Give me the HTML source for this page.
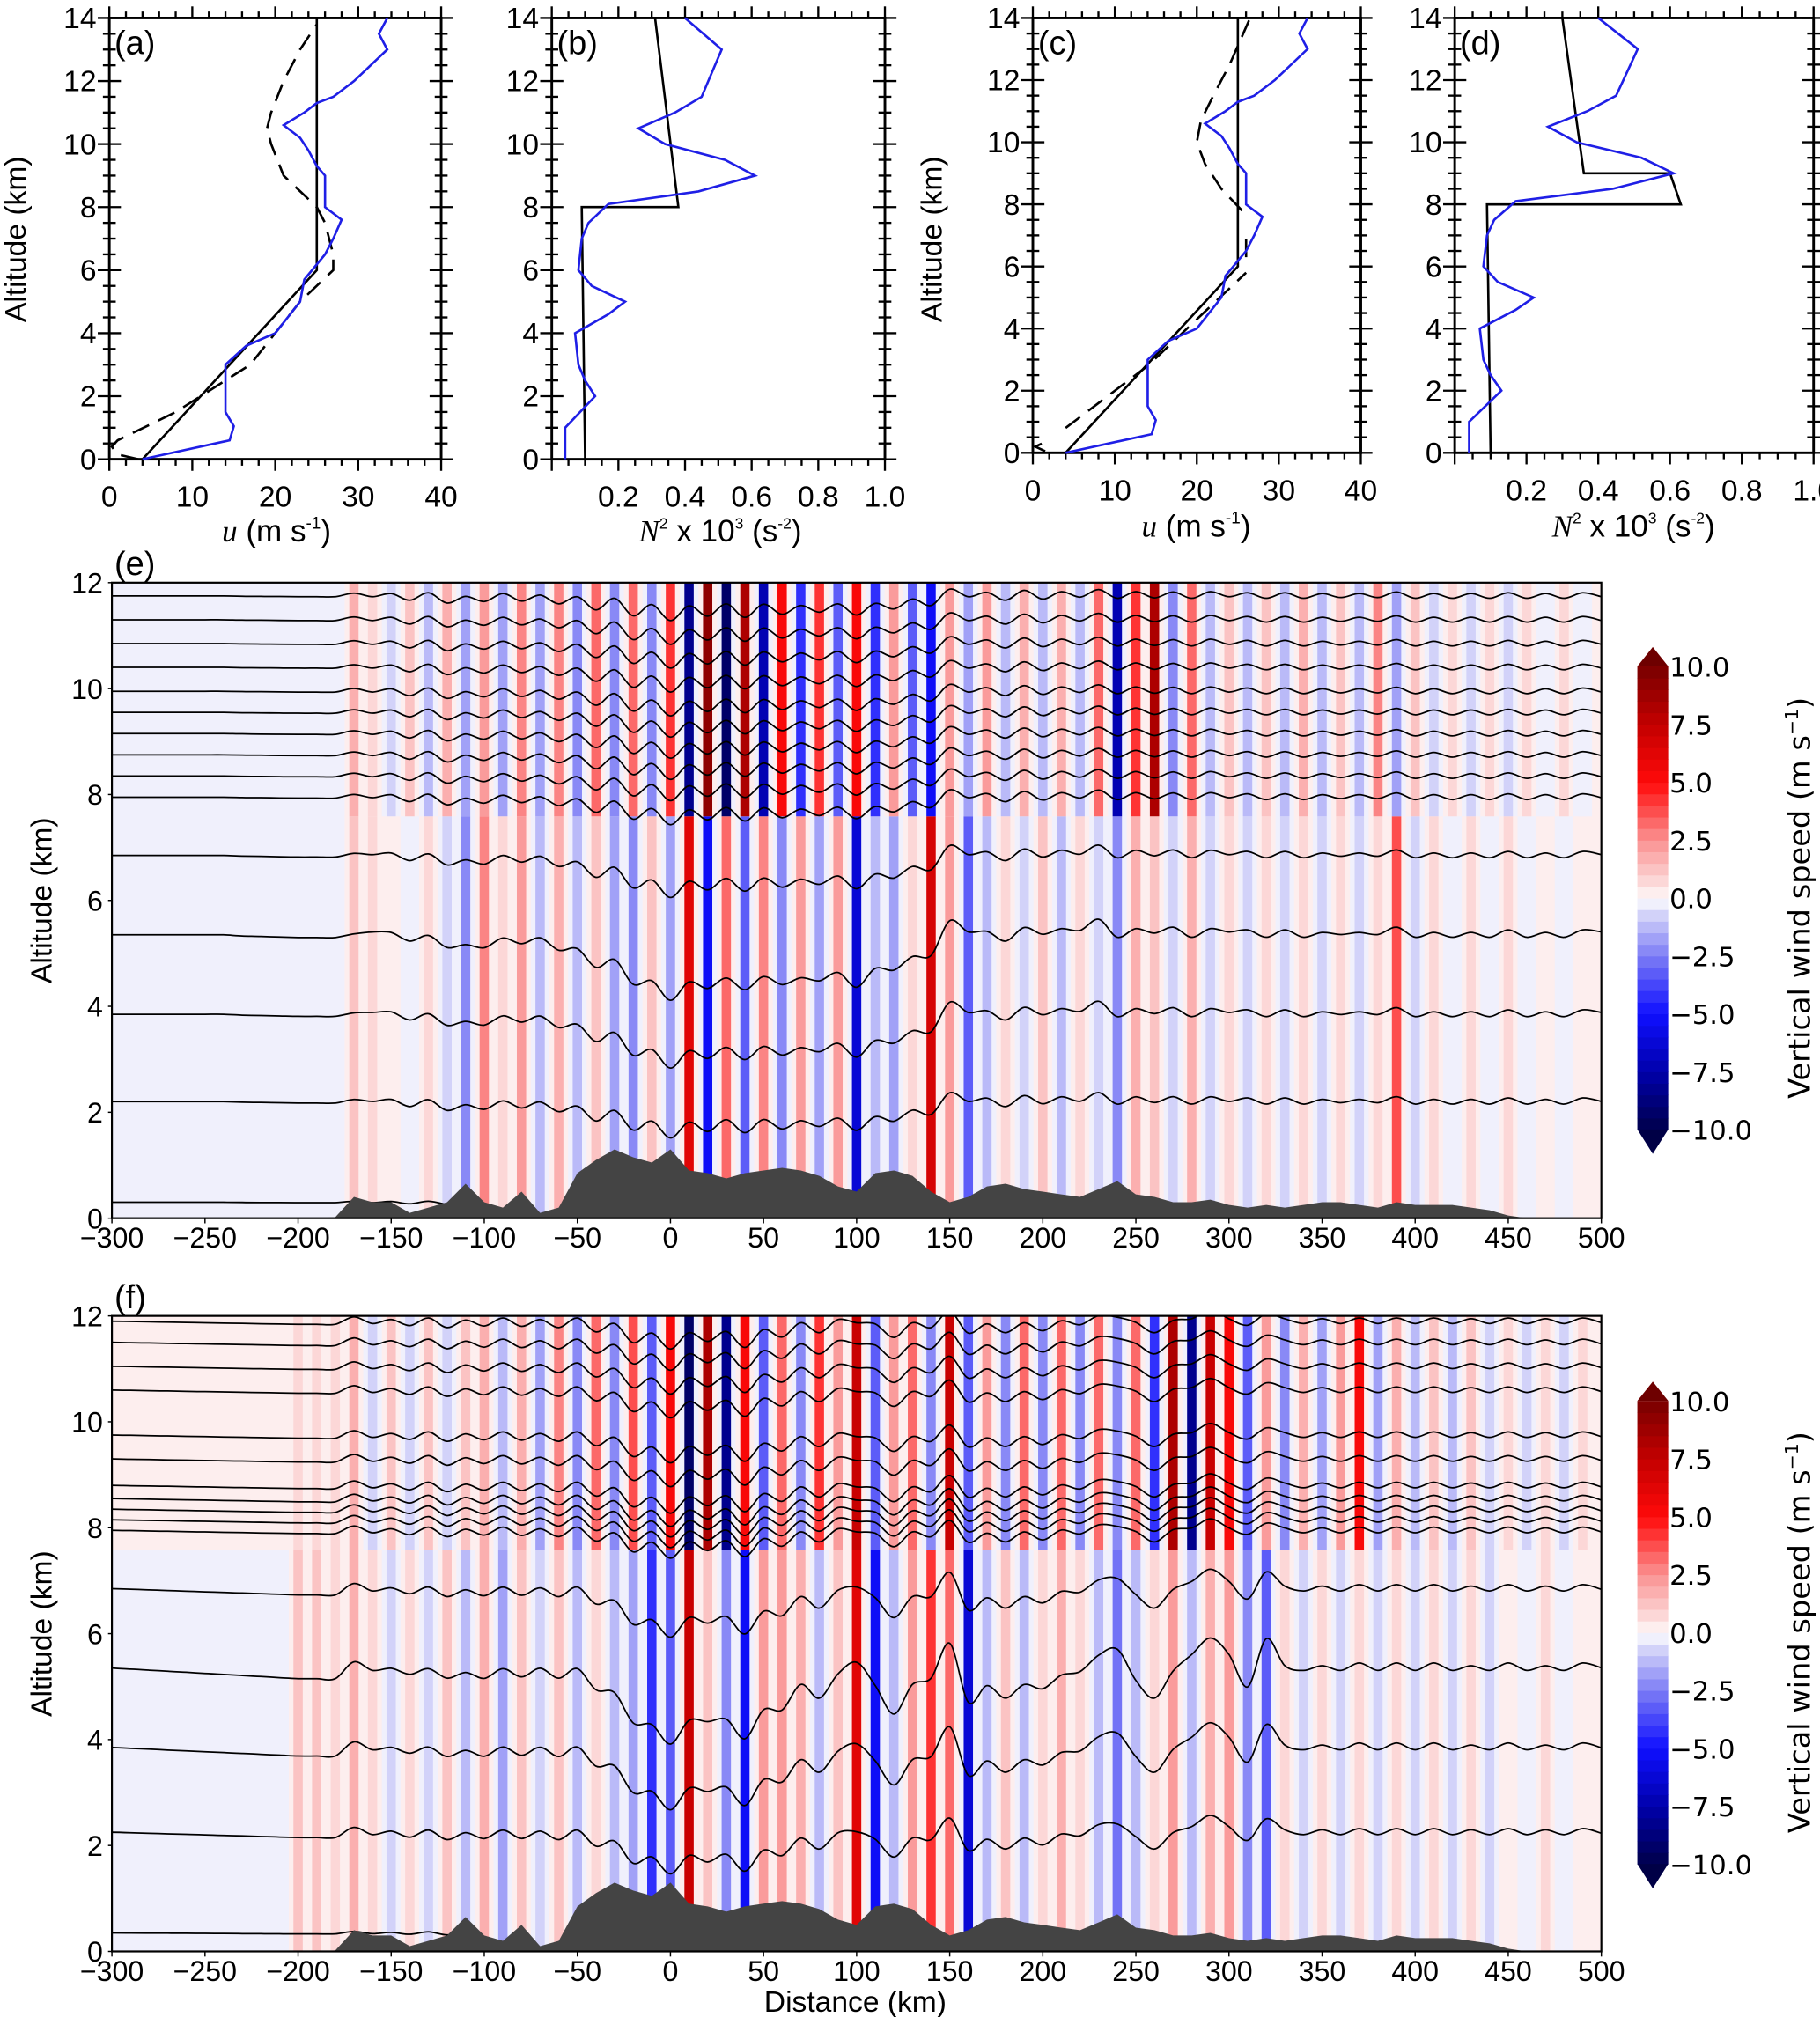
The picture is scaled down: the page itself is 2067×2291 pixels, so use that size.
<!DOCTYPE html>
<html><head><meta charset="utf-8">
<style>
html,body{margin:0;padding:0;background:#fff;}
svg{display:block;}
text{font-family:"Liberation Sans Narrow","Liberation Sans",sans-serif;fill:#000;}
.cb{font-family:"DejaVu Sans","Liberation Sans",sans-serif;}
</style></head>
<body>
<svg id="fig" xmlns="http://www.w3.org/2000/svg" width="2067" height="2291" viewBox="0 0 1415 1568" preserveAspectRatio="none">
<defs>
<clipPath id="clipE"><rect x="87" y="453" width="1158" height="494"/></clipPath>
<clipPath id="clipF"><rect x="87" y="1023" width="1158" height="494"/></clipPath>
</defs>
<g id="root"></g>
</svg>
<script>
// ---------- profile data ----------
const uSolidA=[[4,0],[25,6],[25,14]];
const uDashA=[[3.5,0],[1,0.15],[0.3,0.4],[1,0.6],[8,1.5],[17,3],[23,5],[27,6],[27,6.5],[26,7.5],[25,8],[21,9],[19.5,10],[19,10.5],[19.5,11],[21,12],[23,13],[25,13.8]];
const uBlue=[[4,0],[14.5,0.6],[15,1.05],[14,1.5],[14,3],[16.5,3.6],[20,4],[23,5],[23.5,5.7],[26,6.5],[27,7],[28,7.6],[26,8],[26,9],[25,9.3],[24,9.8],[23,10.2],[21,10.6],[23.5,11],[25,11.3],[27,11.5],[29.5,12],[33.5,13],[32.5,13.5],[33.5,14]];
const n2SolidB=[[0.1,0],[0.09,8],[0.38,8],[0.31,14]];
const n2Blue=[[0.04,0],[0.04,1],[0.13,2],[0.1,2.5],[0.08,3],[0.07,4],[0.17,4.6],[0.22,5],[0.12,5.5],[0.08,6],[0.09,7],[0.11,7.5],[0.17,8.1],[0.44,8.5],[0.61,9],[0.52,9.5],[0.34,10],[0.26,10.5],[0.37,11],[0.45,11.5],[0.47,12],[0.51,13],[0.4,14]];
const uSolidC=[[4,0],[25,6],[25,14]];
const uDashC=[[1.5,0.05],[0.3,0.2],[1.5,0.35],null,[4,0.8],[14,2.8],[22,4.8],[26,5.8],null,[26,6.3],[26,7],null,[25.5,7.8],[23,8.5],[21,9.3],[20,10],[20.5,10.7],[22,11.5],[24,12.5],[26.5,14]];
const n2SolidD=[[0.1,0],[0.09,8],[0.63,8],[0.6,9],[0.36,9],[0.3,14]];

// ---------- cross-section data (x = -300..500 step 10 km) ----------
const distKm=[];for(let k=-300;k<=500;k+=10)distKm.push(k);
const terrain=[0,0,0,0,0,0,0,0,0,0, 0,0,0.02,0.4,0.3,0.3,0.1,0.2,0.3,0.65, 0.3,0.2,0.5,0.1,0.2,0.85,1.1,1.3,1.15,1.05, 1.3,0.9,0.85,0.75,0.85,0.9,0.95,0.9,0.8,0.6, 0.5,0.85,0.9,0.8,0.5,0.3,0.4,0.6,0.65,0.55, 0.5,0.45,0.4,0.55,0.7,0.45,0.4,0.3,0.3,0.35, 0.25,0.2,0.25,0.2,0.25,0.3,0.3,0.25,0.2,0.3, 0.25,0.25,0.25,0.2,0.15,0.05,0,0,0,0, 0];
const wLowerE=[-0.3,-0.3,-0.3,-0.3,-0.3,-0.3,-0.3,-0.3,-0.3,-0.3,-0.3,-0.3,-0.3, 1.0,0.8,0.3,-0.3,0.5,-0.5,-2.0,2.5,0.5,2.0,-1.0,1.5,-1.0,1.0,-1.5,-2.0,1.0,-1.5,6.0,-5.0,3.0,-3.0,2.5,-2.0,2.0,-1.5,2.0,-6.0,-1.0,-1.5,0.5,6.5,2.0,-3.0,-1.0,0.5,-0.5,1.0,-1.0,0.8,-0.5,-2.0,1.5,1.0,-0.5,1.5,-0.8,0.5,-0.8,0.8,-0.5,0.6,-0.5,0.8,-0.5,0.5,3.5,-0.5,0.8,-0.3,0.6,-0.3,0.5,-0.3,0.4,-0.2,0.4,0.3];
const wUpperE=[-0.2,-0.2,-0.2,-0.2,-0.2,-0.2,-0.2,-0.2,-0.2,-0.2,-0.2,-0.2,-0.2, 1.5,0.5,-0.5,1.0,-1.0,1.5,-1.5,2.0,-1.5,2.5,-1.5,2.5,-2.0,3.0,-2.0,3.0,-2.0,4.0,-8.0,9.0,-9.0,8.0,-7.0,5.0,-4.0,4.0,-3.0,5.0,-4.0,2.0,-3.0,-5.0,2.0,-1.5,2.0,-1.0,1.5,-1.0,1.5,-1.0,3.0,-7.0,4.0,8.0,-2.0,3.0,-1.0,1.0,-1.0,1.0,-1.0,1.5,-1.0,1.0,-1.0,2.5,-1.5,1.0,-0.8,0.8,-0.5,0.5,-0.5,0.5,-0.3,0.5,-0.3,0.3];
const wLowerF=[-0.3,-0.3,-0.3,-0.3,-0.3,-0.3,-0.3,-0.3,-0.3,-0.3, 1.0,1.0,0.8,1.5,0.5,-0.5,0.5,-0.5,1.0,-1.0,1.5,-1.5,1.0,-0.5,1.0,-1.0,0.8,-1.0,-1.5,-4.0,-3.0,7.0,1.0,-2.0,-5.0,2.0,2.0,1.5,-1.0,1.0,6.0,-5.0,-1.0,2.0,4.0,3.0,-6.0,-1.0,1.0,-1.0,0.8,1.5,0.8,-1.0,-2.5,-1.0,0.5,2.0,-1.0,1.5,2.0,-2.0,-3.0,0.5,-0.5,0.5,-0.5,0.8,-0.5,0.5,-0.8,0.6,-0.5,0.5,-0.5,0.4,-0.3,0.5,-0.3,0.4,0.2];
const wUpperF=[0.4,0.4,0.4,0.4,0.4,0.4,0.4,0.4,0.4,0.4, 0.8,0.8,0.8, 1.5,-0.5,1.0,-0.5,1.0,-0.5,1.0,1.5,-1.0,1.5,-1.5,2.5,-2.0,3.0,-2.0,3.5,-3.0,5.0,-9.0,8.0,-8.0,5.0,-3.0,3.0,-2.0,4.0,2.0,7.0,-3.0,2.0,3.0,-2.0,7.0,-3.0,2.0,-2.0,3.0,-2.0,3.0,-2.0,3.0,-2.0,3.0,-4.0,8.0,-8.0,7.0,5.0,-3.0,2.0,-2.0,1.5,-1.5,2.0,5.0,-1.5,1.5,-1.0,1.0,-1.0,1.0,-0.8,0.8,-0.5,0.5,-0.5,0.5,0.3];
const dispE=[0,0,0,0,0,0,0,-0.02,-0.03,-0.04, -0.05,-0.05,-0.05,-0.05,0.1,0,-0.05,-0.1,-0.15,-0.25, -0.2,-0.15,-0.1,-0.1,-0.2,-0.35,-0.5,-0.6,-0.8,-1.0, -1.1,-1.0,-0.9,-0.95,-0.9,-0.9,-0.85,-0.9,-0.8,-0.8, -0.9,-0.7,-0.6,-0.5,-0.3,0.2,0.1,0,-0.05,0.05, 0.1,0.05,0.15,0.25,0,0.05,0.1,0.1,0,0.05, 0.1,0.05,0,0.05,0,0,0.05,0,0.05,0.1, 0,0,0,0,0,0.05,0,0,0,0.05, 0.1];
const dispF=[0,-0.02,-0.04,-0.06,-0.08,-0.1,-0.12,-0.14,-0.16,-0.18, -0.2,-0.2,-0.2,0.05,0,-0.05,-0.05,-0.1,-0.1,-0.15, -0.15,-0.1,-0.1,-0.05,-0.1,-0.1,-0.3,-0.6,-0.9,-1.2, -1.3,-1.1,-0.9,-1.1,-1.2,-0.9,-0.7,-0.4,-0.5,-0.2, 0.2,-0.4,-0.8,-0.4,-0.1,0.4,-0.6,-0.4,-0.5,-0.4, -0.3,-0.2,0,0.2,0.4,-0.3,-0.5,-0.1,0.3,0.5, 0.3,-0.4,0.6,0,0,0,0,0.05,0,0.05, 0,0.05,0,0,0,0.05,0,0,0,0.05, 0.05];
const wiggle=[0,0,0,0,0,0,0,0,0,0, 0,0,0,0.15,-0.1,0.1,-0.15,0.2,-0.2,0.15, -0.1,0.2,-0.15,0.1,-0.2,0.2,-0.25,0.3,-0.3,0.3, -0.3,0.25,-0.25,0.3,-0.3,0.25,-0.2,0.2,-0.15,0.2, -0.2,0.15,-0.15,0.2,-0.2,0.15,-0.1,0.15,-0.15,0.2, -0.2,0.15,-0.15,0.1,-0.1,0.15,-0.15,0.1,-0.1,0.15, -0.1,0.1,-0.1,0.1,-0.1,0.1,-0.1,0.1,-0.1,0.1, -0.1,0.1,-0.1,0.1,-0.1,0.1,-0.1,0.1,-0.1,0.1, -0.1];
const baseE=[0.3,2.2,3.85,5.35,6.85,7.95,8.35,8.75,9.15,9.55,9.95,10.4,10.85,11.3,11.75];
const ampE=[0.1,0.5,0.8,1.0,0.6,0.35,0.3,0.3,0.3,0.3,0.3,0.3,0.3,0.3,0.3];
const baseF=[0.35,2.25,3.85,5.35,6.85,7.95,8.15,8.35,8.55,8.8,9.3,9.75,10.6,11.05,11.5,11.9];
const ampF=[0.1,0.5,0.8,1.0,0.6,0.3,0.3,0.3,0.3,0.3,0.3,0.3,0.3,0.3,0.3,0.3];
const distTicks=[-300,-250,-200,-150,-100,-50,0,50,100,150,200,250,300,350,400,450,500];
const altTicks=[0,2,4,6,8,10,12];
const cbTicks=[10,7.5,5,2.5,0,-2.5,-5,-7.5,-10];

const NS='http://www.w3.org/2000/svg';
const root=document.getElementById('root');
function el(tag,attrs,parent){const e=document.createElementNS(NS,tag);for(const k in attrs)e.setAttribute(k,attrs[k]);(parent||root).appendChild(e);return e;}
function txt(s,attrs,parent){const e=el('text',attrs,parent);e.textContent=s;return e;}

// ---------- profile panels ----------
function profilePanel(p){
  const g=el('g',{});
  
  
  const X=v=>p.x0+(v-p.xmin)/(p.xmax-p.xmin)*(p.x1-p.x0);
  const Y=v=>p.y0-(v/14)*(p.y0-p.y1);
  el('rect',{x:p.x0,y:p.y1,width:p.x1-p.x0,height:p.y0-p.y1,fill:'none',stroke:'#000','stroke-width':2},g);
  for(let v=0;v<=14.001;v+=0.5){
    const maj=Math.abs(v-Math.round(v/2)*2)<1e-6, L=maj?9:5, y=Y(v);
    el('line',{x1:p.x0-L,y1:y,x2:p.x0+L,y2:y,stroke:'#000','stroke-width':1.6},g);
    el('line',{x1:p.x1-L,y1:y,x2:p.x1+L,y2:y,stroke:'#000','stroke-width':1.6},g);
    if(maj){const t=txt(String(Math.round(v)),{x:p.x0-10,y:y+8,'font-size':23,'text-anchor':'end'},g);
      }
  }
  for(let v=p.xmin;v<=p.xmax+1e-9;v+=p.minor){
    const r=v/p.major, maj=Math.abs(r-Math.round(r))<1e-6, L=maj?9:5, x=X(v);
    el('line',{x1:x,y1:p.y0,x2:x,y2:p.y0+L,stroke:'#000','stroke-width':1.6},g);
    el('line',{x1:x,y1:p.y1,x2:x,y2:p.y1-L,stroke:'#000','stroke-width':1.6},g);
    if(maj && !(p.skip0 && Math.abs(v)<1e-9)){const t=txt(p.fmt(v),{x:x,y:p.y0+37,'font-size':23,'text-anchor':'middle'},g);
      }
  }
  const t=txt(p.label,{x:p.x0+4,y:p.y1+28,'font-size':26},g);
  
  p.series.forEach(s=>{
    let d='',pen=false;
    s.pts.forEach(q=>{if(!q){pen=false;return;}d+=(pen?'L':'M')+X(q[0]).toFixed(1)+','+Y(q[1]).toFixed(1);pen=true;});
    const pa=el('path',{d:d,fill:'none',stroke:s.color,'stroke-width':1.8,'stroke-dasharray':s.dash||'none'},g);
    
  });
  return {X,Y,g};
}
function uTitle(x,y){const t=el('text',{x:x,y:y,'font-size':24,'text-anchor':'middle'});
  
  t.innerHTML='<tspan font-family="Liberation Serif" font-style="italic">u</tspan> (m s<tspan font-size="13" dy="-10">-1</tspan><tspan dy="10">)</tspan>';}
function nTitle(x,y){const t=el('text',{x:x,y:y,'font-size':24,'text-anchor':'middle'});
  
  t.innerHTML='<tspan font-family="Liberation Serif" font-style="italic">N</tspan><tspan font-size="12" dy="-10">2</tspan><tspan dy="10"> x 10</tspan><tspan font-size="12" dy="-10">3</tspan><tspan dy="10"> (s</tspan><tspan font-size="12" dy="-10">-2</tspan><tspan dy="10">)</tspan>';}
function altTitle(x,y,fs){const t=txt('Altitude (km)',{x:x,y:y,'font-size':fs||24,'text-anchor':'middle',transform:`rotate(-90 ${x} ${y})`,'font-family':'DejaVu Sans, sans-serif'});
  }

const fU=v=>String(Math.round(v)), fN=v=>v.toFixed(1);
profilePanel({name:'panel-a',label:'(a)',x0:85,x1:343,y0:357,y1:14,xmin:0,xmax:40,minor:2,major:10,fmt:fU,
  series:[{name:'u-model',pts:uSolidA,color:'#000'},{name:'u-dashed',pts:uDashA,color:'#000',dash:'14,8'},{name:'u-observed',pts:uBlue,color:'#1f1fe6'}]});
profilePanel({name:'panel-b',label:'(b)',x0:429,x1:688,y0:357,y1:14,xmin:0,xmax:1,minor:0.05,major:0.2,fmt:fN,skip0:true,
  series:[{name:'n2-model',pts:n2SolidB,color:'#000'},{name:'n2-observed',pts:n2Blue,color:'#1f1fe6'}]});
profilePanel({name:'panel-c',label:'(c)',x0:803,x1:1058,y0:352,y1:14,xmin:0,xmax:40,minor:2,major:10,fmt:fU,
  series:[{name:'u-model',pts:uSolidC,color:'#000'},{name:'u-dashed',pts:uDashC,color:'#000',dash:'14,8'},{name:'u-observed',pts:uBlue,color:'#1f1fe6'}]});
profilePanel({name:'panel-d',label:'(d)',x0:1131,x1:1410,y0:352,y1:14,xmin:0,xmax:1,minor:0.05,major:0.2,fmt:fN,skip0:true,
  series:[{name:'n2-model',pts:n2SolidD,color:'#000'},{name:'n2-observed',pts:n2Blue,color:'#1f1fe6'}]});
uTitle(215,421);nTitle(560,421);uTitle(930,417);nTitle(1270,417);
altTitle(20,186,23);altTitle(732,186,23);

// ---------- colormap ----------
const stops=[[-10,[0,0,76]],[-7.5,[0,0,170]],[-5,[15,15,255]],[-2.5,[125,125,245]],[-0.5,[222,222,250]],[0,[240,240,252]],[0.01,[253,238,238]],[0.5,[252,225,225]],[2.5,[250,145,145]],[5,[255,10,10]],[7.5,[195,0,0]],[10,[120,0,0]]];
function cmap(v){
  v=Math.max(-10,Math.min(10,v));
  if(v<0) v=Math.ceil(v/0.5)*0.5-0.25; else v=Math.floor(v/0.5)*0.5+0.25;
  if(Math.abs(v)<0.3) return v<0?'rgb(240,240,252)':'rgb(253,238,238)';
  for(let i=0;i<stops.length-1;i++){const a=stops[i],b=stops[i+1];
    if(v>=a[0]&&v<=b[0]){const t=(v-a[0])/(b[0]-a[0]);const c=a[1].map((q,j)=>Math.round(q+(b[1][j]-q)*t));return `rgb(${c})`;}}
  return 'rgb(240,240,252)';
}
function smoothPath(pts){
  if(!pts.length) return '';
  let d='M'+pts[0][0].toFixed(1)+','+pts[0][1].toFixed(1);
  for(let i=1;i<pts.length;i++){
    const p0=pts[Math.max(0,i-2)],p1=pts[i-1],p2=pts[i],p3=pts[Math.min(pts.length-1,i+1)];
    const c1=[p1[0]+(p2[0]-p0[0])/6,p1[1]+(p2[1]-p0[1])/6],c2=[p2[0]-(p3[0]-p1[0])/6,p2[1]-(p3[1]-p1[1])/6];
    d+='C'+c1.map(v=>v.toFixed(1))+' '+c2.map(v=>v.toFixed(1))+' '+p2[0].toFixed(1)+','+p2[1].toFixed(1);
  }
  return d;
}

// ---------- cross-section panels ----------
function section(p){
  const g=el('g',{});
  
  
  const X=v=>87+(v+300)/800*1158;
  const Y=v=>p.y0-v*41.17;
  const cg=el('g',{'clip-path':`url(#${p.clip})`},g);
  const split=7.6;
  distKm.forEach((d,i)=>{
    const layers=[[0,split,p.lower[i]],[split,12,p.upper[i]]];
    layers.forEach(L=>{
      const v=L[2];
      const x=X(d-5), w=X(d+5)-X(d-5)+0.6;
      const bg=el('rect',{x:x,y:Y(L[1]),width:w,height:Y(L[0])-Y(L[1])+0.5,fill:cmap(v<0?-0.2:0.2)},cg);
      
      const sx=X(d-2.5), sw=X(d+2.5)-X(d-2.5);
      const r=el('rect',{x:sx,y:Y(L[1]),width:sw,height:Y(L[0])-Y(L[1])+0.5,fill:cmap(v)},cg);
      
    });
  });
  p.base.forEach((b,li)=>{
    const pts=[];
    distKm.forEach((k,i)=>{
      if(li===0 && k>p.groundEnd) return;
      const h=b+p.amp[li]*p.disp[i]+(li===0?0.15:0.45)*wiggle[i];
      pts.push([X(k),Y(h)]);
    });
    const pa=el('path',{d:smoothPath(pts),fill:'none',stroke:'#000','stroke-width':1.2},cg);
    
  });
  let td='M'+X(-300)+','+Y(0);
  distKm.forEach((k,i)=>{td+='L'+X(k).toFixed(1)+','+Y(terrain[i]).toFixed(1);});
  td+='L'+X(500)+','+Y(0)+'Z';
  const tp=el('path',{d:td,fill:'#444',stroke:'none'},cg);
  
  el('rect',{x:87,y:Y(12),width:1158,height:Y(0)-Y(12),fill:'none',stroke:'#000','stroke-width':1.5},g);
  altTicks.forEach(v=>{
    el('line',{x1:84,y1:Y(v),x2:87,y2:Y(v),stroke:'#000'},g);
    const t=txt(String(v),{x:80,y:Y(v)+8,'font-size':22,'text-anchor':'end'},g);
    
  });
  distTicks.forEach(v=>{
    el('line',{x1:X(v),y1:Y(0),x2:X(v),y2:Y(0)+4,stroke:'#000'},g);
    const t=txt(v<0?'\u2212'+(-v):String(v),{x:X(v),y:Y(0)+23,'font-size':22,'text-anchor':'middle'},g);
    
  });
  const lb=txt(p.label,{x:89,y:p.y0-494-6,'font-size':26},g);
  
  altTitle(40,p.y0-247,23);
  const cb=el('g',{},g);
  
  const cy=v=>p.cbTop+(10-v)/20*(p.cbBot-p.cbTop);
  for(let v=-10;v<10;v+=0.5){el('rect',{x:1273,y:cy(v+0.5),width:24,height:cy(v)-cy(v+0.5)+0.5,fill:cmap(v+0.25)},cb);}
  el('polygon',{points:`1273,${p.cbTop} 1285,${p.cbTop-15} 1297,${p.cbTop}`,fill:'rgb(110,0,0)'},cb);
  el('polygon',{points:`1273,${p.cbBot} 1285,${p.cbBot+19} 1297,${p.cbBot}`,fill:'rgb(0,0,70)'},cb);
  cbTicks.forEach(v=>{
    const t=txt((v<0?'\u2212':'')+Math.abs(v).toFixed(1),{x:1298,y:cy(v)+8,'font-size':21,class:'cb'},cb);
    
  });
  const ct=el('text',{x:1407,y:(p.cbTop+p.cbBot)/2,'font-size':23,'text-anchor':'middle',class:'cb',transform:`rotate(-90 1407 ${(p.cbTop+p.cbBot)/2})`},cb);
  
  ct.innerHTML='Vertical wind speed (m s<tspan font-size="14" dy="-9">\u22121</tspan><tspan dy="9">)</tspan>';
}
section({name:'panel-e',label:'(e)',y0:947,clip:'clipE',lower:wLowerE,upper:wUpperE,base:baseE,amp:ampE,disp:dispE,groundEnd:-120,cbTop:518,cbBot:878});
section({name:'panel-f',label:'(f)',y0:1517,clip:'clipF',lower:wLowerF,upper:wUpperF,base:baseF,amp:ampF,disp:dispF,groundEnd:-110,cbTop:1089,cbBot:1449});
const dt=txt('Distance (km)',{x:665,y:1564,'font-size':23,'text-anchor':'middle','font-family':'DejaVu Sans, sans-serif'});


</script>
</body></html>
